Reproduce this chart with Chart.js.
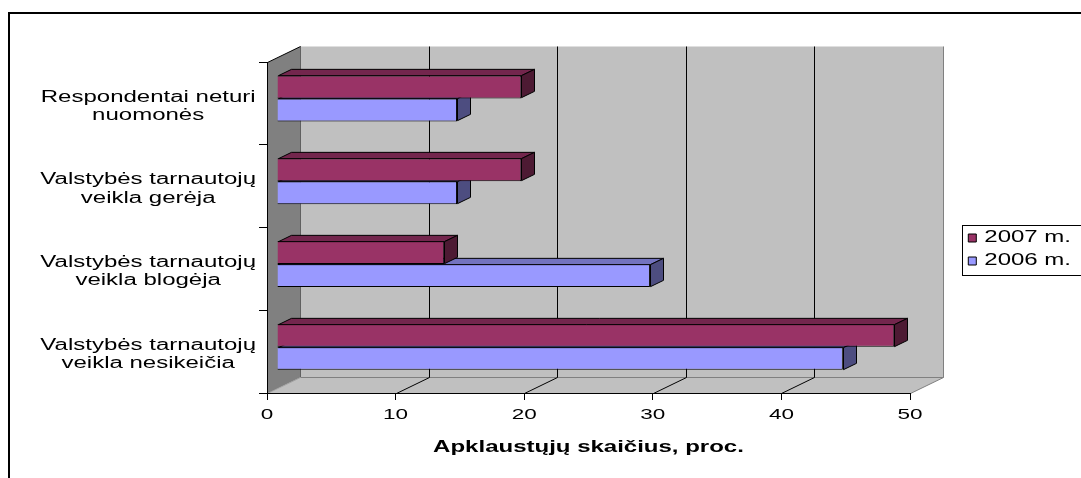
<!DOCTYPE html>
<html>
<head>
<meta charset="utf-8">
<script src="https://cdn.jsdelivr.net/npm/chart.js@4.4.1/dist/chart.umd.min.js"></script>
<style>
  body { margin: 0; background: #fff; }
  canvas { display: block; }
</style>
</head>
<body>
<canvas id="grafikas" width="1081" height="478"></canvas>
<script>
// categories, top to bottom
const categories = [
  ['Respondentai neturi', 'nuomonės'],
  ['Valstybės tarnautojų', 'veikla gerėja'],
  ['Valstybės tarnautojų', 'veikla blogėja'],
  ['Valstybės tarnautojų', 'veikla nesikeičia']
];
const seriesNames = ['2007 m.', '2006 m.'];
const values2007 = [19, 19, 13, 48];
const values2006 = [14, 14, 29, 44];
const axisMax = 50;
const axisStep = 10;
const axisTitle = 'Apklaustųjų skaičius, proc.';

// front / top / side shades of each series
const colors2007 = { front: '#993366', top: '#73264d', side: '#4d1a33' };
const colors2006 = { front: '#9999ff', top: '#7373bf', side: '#4d4d80' };

// 3d box depth (back wall offset) and where the bars sit inside it
const DX = 33, DY = -16;
const BAR_OFF = 10 / 33;
const BAR_DEPTH = 13 / 33;

const PLOT_RIGHT = 910;

// excel style wide text: stretch every label horizontally
const SX = 1.5;
const canvas = document.getElementById('grafikas');
const ctx = canvas.getContext('2d');
const nativeFill = CanvasRenderingContext2D.prototype.fillText;
const nativeMeasure = CanvasRenderingContext2D.prototype.measureText;
ctx.fillText = function (t, x, y, w) {
  this.save();
  this.translate(x, y);
  this.scale(SX, 1);
  if (w === undefined) nativeFill.call(this, t, 0, 0);
  else nativeFill.call(this, t, 0, 0, w / SX);
  this.restore();
};
ctx.measureText = function (t) {
  const m = nativeMeasure.call(this, t);
  return {
    width: m.width * SX,
    actualBoundingBoxLeft: m.actualBoundingBoxLeft * SX,
    actualBoundingBoxRight: m.actualBoundingBoxRight * SX,
    actualBoundingBoxAscent: m.actualBoundingBoxAscent,
    actualBoundingBoxDescent: m.actualBoundingBoxDescent
  };
};

function line(c, x1, y1, x2, y2, color) {
  c.beginPath();
  c.moveTo(x1, y1);
  c.lineTo(x2, y2);
  c.strokeStyle = color;
  c.lineWidth = 1;
  c.stroke();
}

function poly(c, pts, fill, stroke) {
  c.beginPath();
  c.moveTo(pts[0][0], pts[0][1]);
  for (let i = 1; i < pts.length; i++) c.lineTo(pts[i][0], pts[i][1]);
  c.closePath();
  if (fill) { c.fillStyle = fill; c.fill(); }
  if (stroke) { c.strokeStyle = stroke; c.lineWidth = 1; c.stroke(); }
}

const box3d = {
  id: 'box3d',
  beforeDraw(chart) {
    const c = chart.ctx;
    const a = chart.chartArea;
    const xs = chart.scales.x;
    const L = Math.round(a.left) + 0.5, R = Math.round(a.right) + 0.5;
    const T = Math.round(a.top) + 0.5, B = Math.round(a.bottom) + 0.5;
    c.save();
    c.fillStyle = '#fff';
    c.fillRect(0, 0, chart.width, chart.height);
    // outer frame
    c.strokeStyle = '#000';
    c.lineWidth = 2;
    c.strokeRect(9, 13, chart.width + 20, chart.height + 20);
    // walls and floor
    poly(c, [[L, T], [L + DX, T + DY], [L + DX, B + DY], [L, B]], '#808080');
    c.fillStyle = '#c0c0c0';
    c.fillRect(L + DX, T + DY, R - L, B - T);
    poly(c, [[L, B], [R, B], [R + DX, B + DY], [L + DX, B + DY]], '#c0c0c0');
    line(c, L + DX, T + DY, L + DX, B + DY, '#606060');
    line(c, R + DX, T + DY, R + DX, B + DY, '#808080');
    line(c, L + DX, B + DY, R + DX, B + DY, '#808080');
    line(c, R, B, R + DX, B + DY, '#808080');
    line(c, L, B, L + DX, B + DY, '#a0a0a0');
    // grid on the back wall, running forward over the floor
    for (let v = axisStep; v < axisMax; v += axisStep) {
      const px = Math.round(xs.getPixelForValue(v)) + 0.5;
      line(c, px + DX, T + DY, px + DX, B + DY, '#000');
      line(c, px, B, px + DX, B + DY, '#000');
    }
    line(c, L, T, L + DX, T + DY, '#000');
    c.restore();
  },
  beforeDatasetsDraw(chart) {
    chart.ctx.save();
    chart.ctx.translate(DX * BAR_OFF, DY * BAR_OFF);
  },
  afterDatasetDraw(chart, args) {
    const c = chart.ctx;
    const ds = chart.data.datasets[args.index];
    const ex = DX * BAR_DEPTH, ey = DY * BAR_DEPTH;
    args.meta.data.forEach(bar => {
      const p = bar.getProps(['x', 'y', 'base', 'height'], true);
      const x = Math.round(p.x) + 0.5, b = Math.round(p.base) + 0.5;
      const t = Math.round(p.y - p.height / 2) + 0.5;
      const bt = Math.round(p.y + p.height / 2) - 0.5;
      poly(c, [[b, t], [x, t], [x + ex, t + ey], [b + ex, t + ey]], ds.shades.top, '#000');
      poly(c, [[x, t], [x, bt], [x + ex, bt + ey], [x + ex, t + ey]], ds.shades.side, '#000');
    });
  },
  afterDatasetsDraw(chart) {
    chart.ctx.restore();
  },
  afterDraw(chart) {
    const hb = chart.legend && chart.legend.legendHitBoxes;
    if (!hb || !hb.length) return;
    const c = chart.ctx;
    const first = hb[0], last = hb[hb.length - 1];
    const top = Math.round(first.top) - 5 + 0.5;
    const bottom = Math.round(last.top + last.height) + 6 + 0.5;
    c.save();
    c.strokeStyle = '#000';
    c.lineWidth = 1;
    c.strokeRect(Math.round(first.left) - 6 + 0.5, top, chart.width, bottom - top);
    c.restore();
  }
};

Chart.defaults.font.family = "'Liberation Sans', Arial, sans-serif";
Chart.defaults.color = '#000';

new Chart(ctx, {
  type: 'bar',
  data: {
    labels: categories,
    datasets: [
      {
        label: seriesNames[0],
        data: values2007,
        backgroundColor: colors2007.front,
        borderColor: '#000',
        borderWidth: 1,
        shades: colors2007,
        xAxisID: 'x',
        yAxisID: 'y'
      },
      {
        label: seriesNames[1],
        data: values2006,
        backgroundColor: colors2006.front,
        borderColor: '#000',
        borderWidth: 1,
        shades: colors2006,
        xAxisID: 'x',
        yAxisID: 'y'
      }
    ]
  },
  options: {
    indexAxis: 'y',
    responsive: false,
    animation: false,
    categoryPercentage: 0.555,
    barPercentage: 1,
    layout: { padding: { top: 40, bottom: 19, left: 9, right: 0 } },
    plugins: {
      tooltip: { enabled: false },
      legend: {
        position: 'right',
        labels: {
          boxWidth: 8,
          boxHeight: 8,
          padding: 7,
          color: '#000',
          font: { size: 16 }
        }
      }
    },
    scales: {
      x: {
        type: 'linear',
        position: 'bottom',
        min: 0,
        max: axisMax,
        ticks: { stepSize: axisStep, padding: 6, font: { size: 15 } },
        grid: { drawOnChartArea: false, tickLength: 7, color: '#000' },
        border: { color: '#000' },
        title: {
          display: true,
          text: axisTitle,
          font: { size: 16, weight: 'bold' },
          padding: { top: 0, bottom: 1.5 }
        },
        afterFit(s) { s.height = 66; }
      },
      y: {
        type: 'category',
        position: 'left',
        ticks: { crossAlign: 'center', padding: 3, labelOffset: 3, font: { size: 16, lineHeight: 1.15 } },
        grid: { drawOnChartArea: false, tickLength: 8, color: '#000', offset: true },
        border: { color: '#000' },
        afterFit(s) { s.width = 258; }
      },
      gapTop: {
        type: 'linear',
        axis: 'x',
        position: 'top',
        grid: { display: false },
        ticks: { display: false },
        border: { display: false },
        afterFit(s) { s.height = 22; }
      },
      gapRight: {
        type: 'linear',
        axis: 'y',
        position: 'right',
        grid: { display: false },
        ticks: { display: false },
        border: { display: false },
        afterFit(s) { s.width = s.chart.width - s.chart.legend.width - PLOT_RIGHT; }
      }
    }
  },
  plugins: [box3d]
});
</script>
</body>
</html>
